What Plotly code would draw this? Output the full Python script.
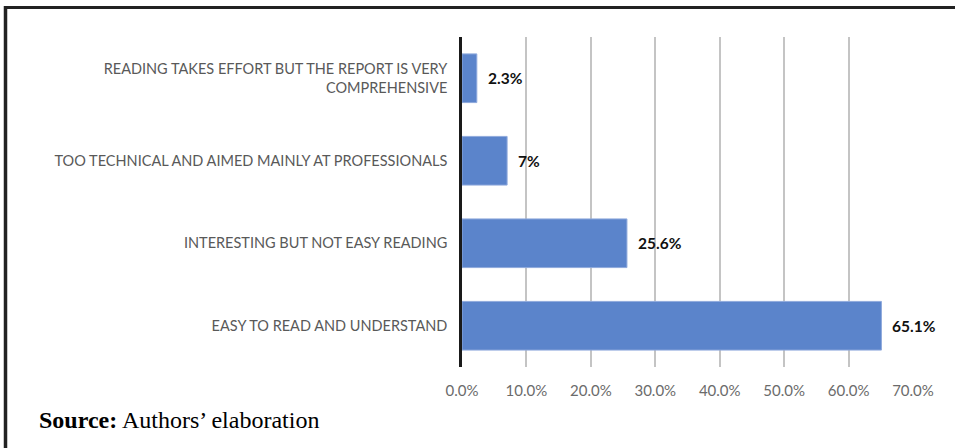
import plotly.graph_objects as go

# Survey responses (share of respondents, %)
categories = [
    "READING TAKES EFFORT BUT THE REPORT IS VERY<br>COMPREHENSIVE",
    "TOO TECHNICAL AND AIMED MAINLY AT PROFESSIONALS",
    "INTERESTING BUT NOT EASY READING",
    "EASY TO READ AND UNDERSTAND",
]
shares = [2.3, 7, 25.6, 65.1]
tick_values = [0, 10, 20, 30, 40, 50, 60, 70]
tick_labels = ["0.0%", "10.0%", "20.0%", "30.0%", "40.0%", "50.0%", "60.0%", "70.0%"]

W, H = 955, 448
L, R, T, B = 462, 42, 37, 81
plot_w = W - L - R
plot_h = H - T - B


def px_x(p):
    return (p - L) / plot_w


def px_y(p):
    return 1 - (p - T) / plot_h


fig = go.Figure()
fig.add_trace(go.Bar(
    y=categories,
    x=shares,
    orientation="h",
    marker=dict(color="#5B84CB", line=dict(color="#8FAADC", width=1)),
    width=0.59,
    hoverinfo="skip",
))

# value labels to the right of each bar
for cat, v in zip(categories, shares):
    fig.add_annotation(
        x=v, y=cat, xref="x", yref="y",
        text=f"<b>{v:g}%</b>",
        showarrow=False, xanchor="left", xshift=9,
        font=dict(family="Lato, 'Open Sans', sans-serif", size=15.5, color="#111111"),
    )

# source note
fig.add_annotation(
    x=px_x(37), y=px_y(420), xref="paper", yref="paper",
    text="<b>Source:</b> Authors’ elaboration",
    showarrow=False, xanchor="left", yanchor="middle",
    font=dict(family="'Liberation Serif', 'Times New Roman', serif", size=24, color="#000000"),
)

# outer frame: top and left rules
fig.add_shape(type="line", xref="paper", yref="paper",
              x0=px_x(4), x1=px_x(W + 5), y0=px_y(7.5), y1=px_y(7.5),
              line=dict(color="#222222", width=3))
fig.add_shape(type="line", xref="paper", yref="paper",
              x0=px_x(5.5), x1=px_x(5.5), y0=px_y(6), y1=px_y(H + 5),
              line=dict(color="#222222", width=3.5))

fig.update_layout(
    width=W, height=H, autosize=False,
    margin=dict(l=L, r=R, t=T, b=B, pad=0),
    paper_bgcolor="white", plot_bgcolor="white",
    showlegend=False,
    bargap=0.41,
    font=dict(family="Lato, 'Open Sans', sans-serif"),
)
fig.update_xaxes(
    range=[0, 70],
    tickvals=tick_values, ticktext=tick_labels,
    showgrid=True, gridcolor="#C4C4C4", gridwidth=1.5,
    zeroline=False, showline=False,
    layer="above traces",
    tickfont=dict(family="Lato, 'Open Sans', sans-serif", size=15, color="#6B6B6B"),
    ticks="outside", ticklen=10, tickcolor="rgba(0,0,0,0)",
)
fig.update_yaxes(
    categoryorder="array", categoryarray=categories[::-1],
    range=[-0.5, 3.5],
    showgrid=False, zeroline=False,
    showline=True, linecolor="#1A1A1A", linewidth=2.5,
    layer="above traces",
    tickfont=dict(family="Lato, 'Open Sans', sans-serif", size=14.5, color="#595959"),
    ticks="outside", ticklen=9, tickcolor="rgba(0,0,0,0)",
)

fig.write_html("out.html")
